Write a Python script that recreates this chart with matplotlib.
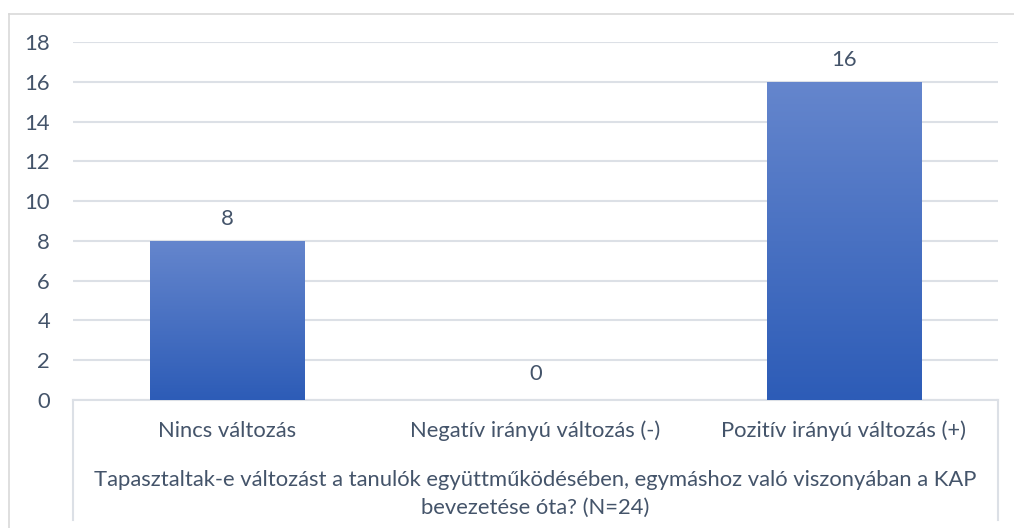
import numpy as np
import matplotlib
matplotlib.use("Agg")
import matplotlib.pyplot as plt
from matplotlib.colors import LinearSegmentedColormap
from matplotlib.lines import Line2D

categories = ["Nincs változás", "Negatív irányú változás (-)", "Pozitív irányú változás (+)"]
values = [8, 0, 16]
yticks = [0, 2, 4, 6, 8, 10, 12, 14, 16, 18]
title_text = "Tapasztaltak-e változást a tanulók együttműködésében, egymáshoz való viszonyában a KAP\nbevezetése óta? (N=24)"

TXT = "#44546A"
GRID = "#DCE0E6"
FS = 15.8
plt.rcParams['font.family'] = ['Lato', 'DejaVu Sans']

W, H = 1014, 528
fig = plt.figure(figsize=(W / 100, H / 100), dpi=100)
ax = fig.add_axes([73 / W, 1 - 400 / H, (998 - 73) / W, (400 - 42) / H])

x = np.arange(len(categories))
bars = ax.bar(x, values, width=0.5, facecolor="none", edgecolor="none", zorder=3)

cmap = LinearSegmentedColormap.from_list("g", ["#2D5CB7", "#6586CD"])
grad = np.linspace(0, 1, 256).reshape(-1, 1)
for b in bars:
    h = b.get_height()
    if h <= 0:
        continue
    x0 = b.get_x()
    im = ax.imshow(grad, cmap=cmap, origin="lower", aspect="auto",
                   extent=[x0, x0 + b.get_width(), 0, h], zorder=3)
    im.set_clip_path(b)

ax.set_xlim(-0.5, 2.5)
ax.set_ylim(0, 18)
ax.set_yticks(yticks)
ax.set_yticklabels([str(t) for t in yticks])
ax.set_xticks([])
ax.yaxis.grid(True, color=GRID, linewidth=1.5, zorder=0)
ax.set_axisbelow(True)
for s in ["top", "right", "left"]:
    ax.spines[s].set_visible(False)
ax.spines["bottom"].set_color(GRID)
ax.spines["bottom"].set_linewidth(1.5)
ax.tick_params(axis="y", length=0, pad=16.5, labelsize=FS, labelcolor=TXT)

for xi, v in zip(x, values):
    off = 15.5 if v > 0 else 18.5
    ax.annotate(str(v), (xi, v), xytext=(0, off), textcoords="offset points",
                ha="center", va="center", fontsize=FS, color=TXT)

# category axis box
trans = ax.get_xaxis_transform()
for xv in [-0.5, 2.5]:
    ax.plot([xv, xv], [0, -(520 - 400) / (400 - 42)], transform=trans,
            color=GRID, linewidth=1.5, clip_on=False)

for xi, c in zip(x, categories):
    ax.text(xi, -(431 - 400) / (400 - 42), c, transform=trans, ha="center",
            va="center", fontsize=FS, color=TXT)
ax.text(1, -(494 - 400) / (400 - 42), title_text, transform=trans, ha="center",
        va="center", fontsize=FS, color=TXT, linespacing=1.5)

# outer chart border (top and left visible)
fig.add_artist(Line2D([8.5 / W, 1.0], [1 - 13.5 / H, 1 - 13.5 / H], transform=fig.transFigure, color="#D9D9D9", linewidth=1.2))
fig.add_artist(Line2D([8.5 / W, 8.5 / W], [0, 1 - 13.5 / H], transform=fig.transFigure, color="#D9D9D9", linewidth=1.2))

fig.savefig("out.png", dpi=100)
